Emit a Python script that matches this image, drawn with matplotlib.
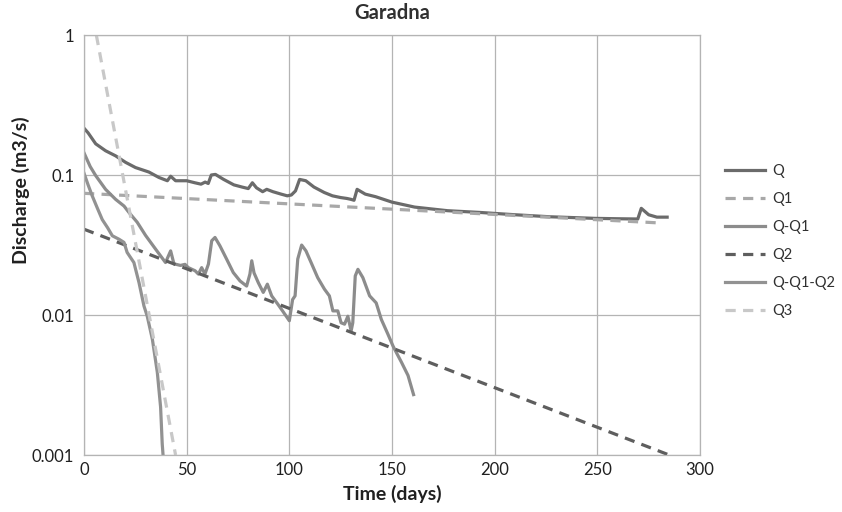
import matplotlib
matplotlib.use("Agg")
import matplotlib.pyplot as plt

plt.rcParams["font.family"] = ["Lato", "DejaVu Sans"]

# Q: measured discharge
q_t = [0, 2, 5.7, 10.5, 15.4, 20.3, 25.1, 31.6, 36.5, 40.6, 42.2, 44.6, 47, 50,
       54, 57, 59, 60.5, 62, 64, 68, 73, 77, 80, 82, 84, 87, 89, 92, 96, 99,
       101, 103, 105, 108, 112, 117, 121, 125, 128, 130, 131.5, 133, 137, 142,
       150, 161, 177, 193, 210, 227, 249, 260, 269.7, 271.4, 275, 279, 284]
q_v = [0.216, 0.2, 0.167, 0.149, 0.137, 0.123, 0.113, 0.105, 0.096, 0.091, 0.098,
       0.091, 0.091, 0.091, 0.088, 0.086, 0.089, 0.087, 0.1, 0.101, 0.093, 0.085,
       0.082, 0.080, 0.088, 0.081, 0.076, 0.079, 0.076, 0.073, 0.071, 0.072,
       0.077, 0.093, 0.091, 0.082, 0.075, 0.071, 0.069, 0.068, 0.067, 0.066,
       0.079, 0.073, 0.070, 0.064, 0.059, 0.0556, 0.054, 0.052, 0.0503, 0.049,
       0.0487, 0.0485, 0.0578, 0.052, 0.050, 0.050]

# Q - Q1
qq1_t = [0, 3, 5.7, 10.5, 15.4, 19.5, 21.9, 25.9, 30, 34.9, 39.7, 42.2, 43.8, 47,
         49.2, 50.8, 54.1, 55.7, 57.3, 58.9, 60.6, 62.2, 63.8, 66.2, 69.5, 72.7,
         76, 79.2, 80.8, 81.7, 82.8, 84.9, 87.3, 89.3, 91.4, 94.3, 96.7, 100,
         101.6, 102.8, 104.1, 106, 108.1, 110.6, 113.8, 117.1, 119.5, 121.2,
         123.6, 125.2, 126.9, 128.5, 130.1, 130.9, 132.1, 133.4, 135.8, 139.1,
         142.3, 144.8, 148, 150.5, 152.1, 154.6, 157.8, 160.5]
qq1_v = [0.144, 0.115, 0.099, 0.079, 0.067, 0.060, 0.054, 0.046, 0.037, 0.0295,
         0.0237, 0.0287, 0.0232, 0.0226, 0.023, 0.0218, 0.0207, 0.0196, 0.0218,
         0.0196, 0.0231, 0.0339, 0.0358, 0.0312, 0.025, 0.0201, 0.0175, 0.0161,
         0.0196, 0.0244, 0.0200, 0.017, 0.0145, 0.0166, 0.0137, 0.012, 0.0107,
         0.0091, 0.0129, 0.0137, 0.0251, 0.0316, 0.0287, 0.0237, 0.0185, 0.0153,
         0.0137, 0.0107, 0.0107, 0.0088, 0.0086, 0.0098, 0.0077, 0.0088, 0.019,
         0.0212, 0.0185, 0.0137, 0.0122, 0.0093, 0.0073, 0.006, 0.0054, 0.0046,
         0.0037, 0.0027]

# Q - Q1 - Q2
qq12_t = [0, 2, 4, 6.5, 8.9, 11.5, 13.8, 17, 19.5, 21, 24.3, 26.8, 29.2, 30.8,
          33.3, 35.7, 37.3, 38.1, 38.5]
qq12_v = [0.103, 0.085, 0.071, 0.058, 0.048, 0.042, 0.0368, 0.0348, 0.033, 0.028,
          0.0237, 0.017, 0.0116, 0.0098, 0.0067, 0.0039, 0.0022, 0.0012, 0.001]

# fitted recession components (start / end of each straight line)
q1_t, q1_v = [0, 281], [0.074, 0.0454]
q2_t, q2_v = [0, 285], [0.041, 0.001]
q3_t, q3_v = [6, 44.6], [1.0, 0.001]

fig = plt.figure(figsize=(8.42, 5.12), dpi=100)
ax = fig.add_axes([84 / 842, 57 / 512, 616 / 842, 420 / 512])

lw = 2.3
dash = (3.2, 2.3)
ax.plot(q_t, q_v, color="#6b6b6b", lw=lw, label="Q")
ax.plot(q1_t, q1_v, color="#a8a8a8", lw=lw, dashes=dash, label="Q1")
ax.plot(qq1_t, qq1_v, color="#8c8c8c", lw=lw, label="Q-Q1")
ax.plot(q2_t, q2_v, color="#5e5e5e", lw=lw, dashes=dash, label="Q2")
ax.plot(qq12_t, qq12_v, color="#929292", lw=lw, label="Q-Q1-Q2")
ax.plot(q3_t, q3_v, color="#c8c8c8", lw=lw, dashes=dash, label="Q3")

ax.set_yscale("log")
ax.set_xlim(0, 300)
ax.set_ylim(0.001, 1)
ax.set_xticks(range(0, 301, 50))
ax.set_yticks([0.001, 0.01, 0.1, 1])
ax.set_yticklabels(["0.001", "0.01", "0.1", "1"])
ax.minorticks_off()
ax.grid(True, color="#b4b4b4", lw=0.9)
for s in ax.spines.values():
    s.set_color("#b4b4b4")
    s.set_linewidth(0.9)
ax.tick_params(length=0, labelsize=12, labelcolor="#202020")
ax.tick_params(axis="x", pad=5)
ax.tick_params(axis="y", pad=7)

fig.text(392 / 842, 1 - 13 / 512, "Garadna", fontsize=14.5, fontweight="bold",
         color="#303030", ha="center", va="center")
ax.set_xlabel("Time (days)", fontsize=14, fontweight="bold", color="#202020")
ax.set_ylabel("Discharge (m3/s)", fontsize=14, fontweight="bold", color="#202020")
ax.xaxis.set_label_coords(0.5, -(494 - 455) / 420)
ax.yaxis.set_label_coords(-(84 - 21) / 616, (455 - 190) / 420)
ax.yaxis.label.set_va("center")
ax.xaxis.label.set_va("center")

fig.legend(loc="center left", bbox_to_anchor=(725 / 842, 1 - 241 / 512),
           frameon=False, fontsize=10.5, handlelength=2.75, handletextpad=0.48,
           labelspacing=0.97, borderpad=0, borderaxespad=0, labelcolor="#303030")

fig.savefig("out.png", dpi=100)
